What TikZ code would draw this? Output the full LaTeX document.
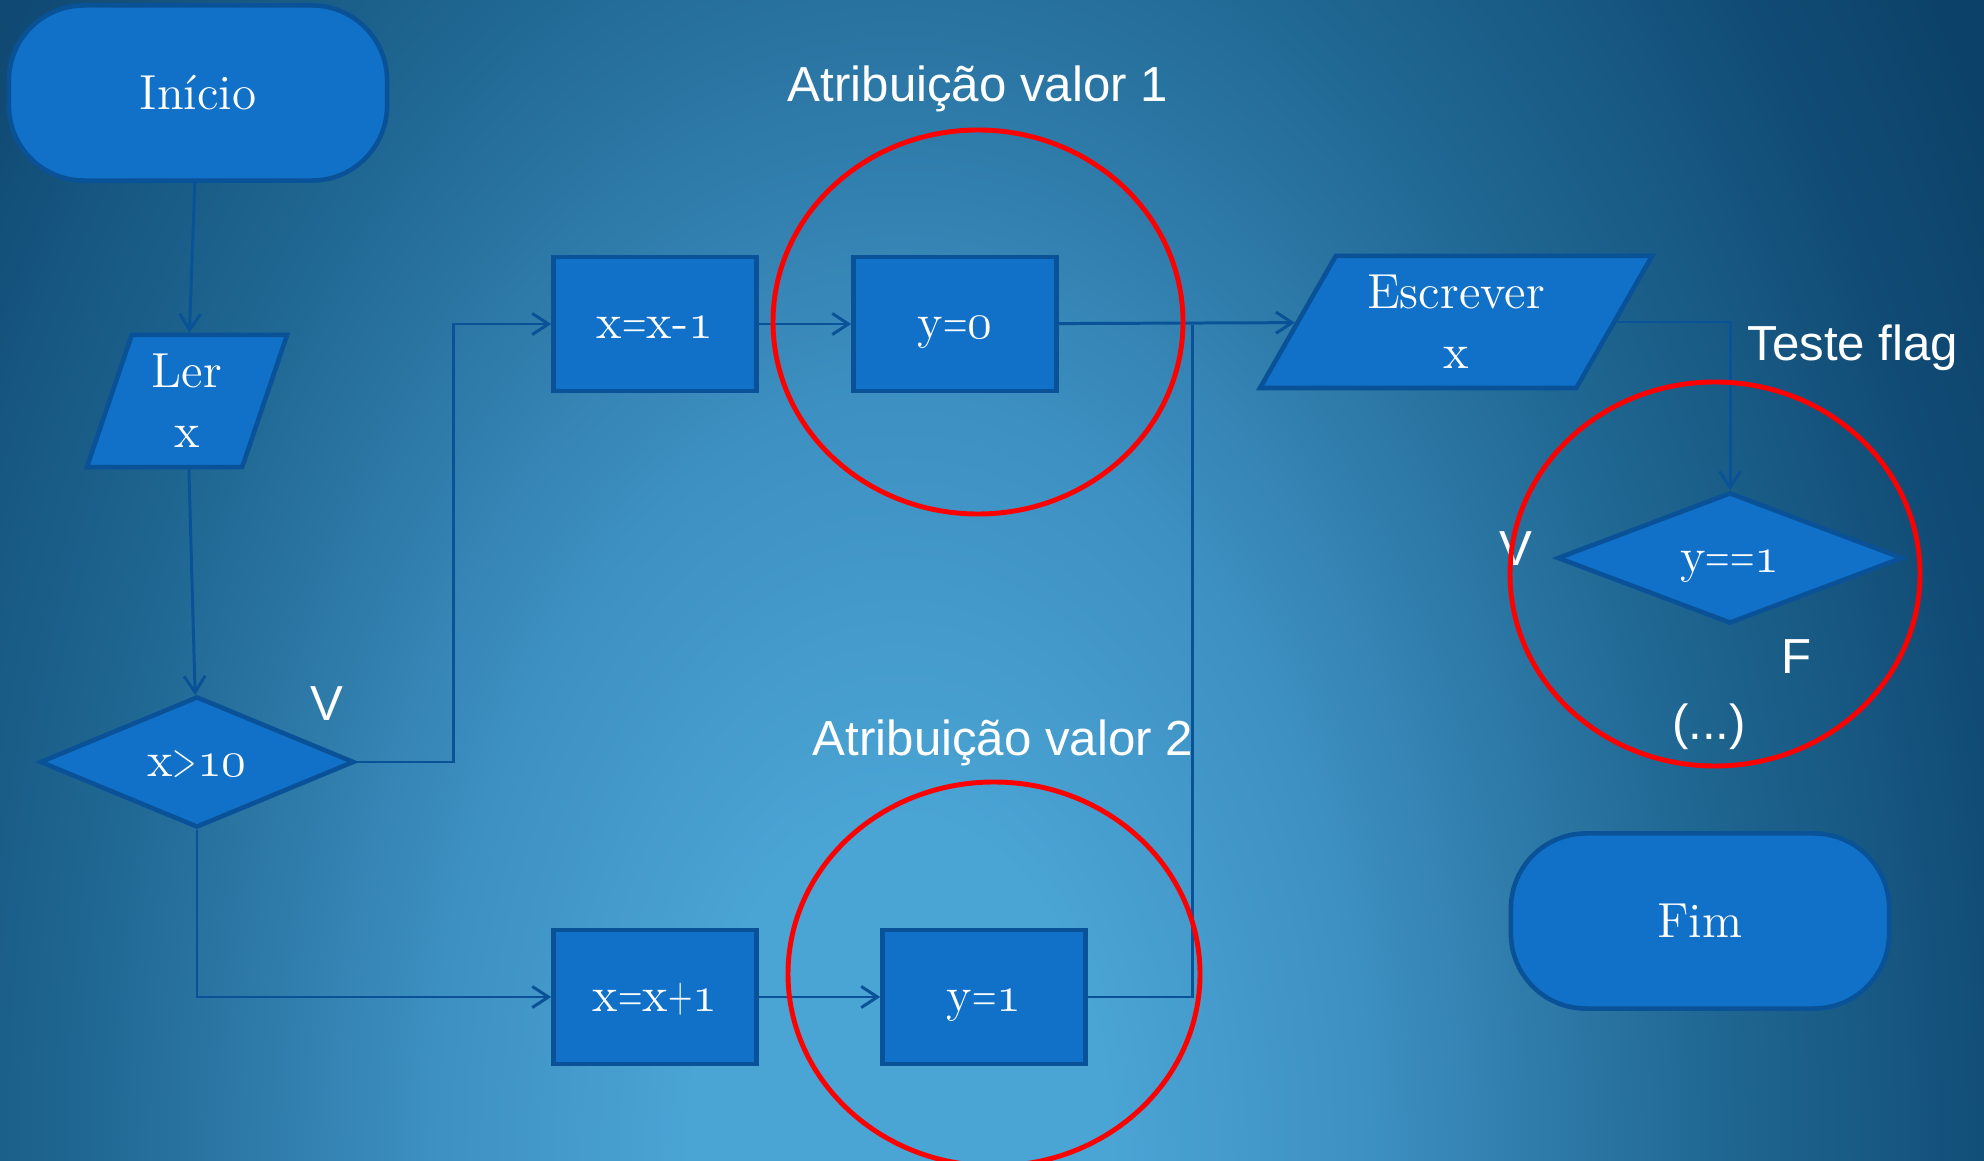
\documentclass[tikz,border=0pt]{standalone}
\usepackage{fontspec}
\usetikzlibrary{shapes.geometric,arrows.meta,calc}
\newfontfamily\labelfont{Liberation Sans}
\newcommand\osnum[1]{{\usefont{OML}{lmm}{m}{it}#1}}
\newcommand\nrw[1]{\scalebox{.65}[1]{#1}}
\definecolor{bglight}{HTML}{4AA4D4}
\definecolor{bgmid}{HTML}{3D90C2}
\definecolor{bgdeep}{HTML}{2B76A4}
\definecolor{bgdim}{HTML}{1E6590}
\definecolor{bgdusk}{HTML}{185A84}
\definecolor{bgnight}{HTML}{114C76}
\definecolor{bgdark}{HTML}{0C426A}
\definecolor{boxfill}{HTML}{1170C8}
\definecolor{boxline}{HTML}{0A5298}
\pgfdeclareradialshading{slide bg}{\pgfpoint{0bp}{0bp}}{%
  color(0bp)=(bglight); color(2.5bp)=(bglight); color(5.6bp)=(bgmid);
  color(8.1bp)=(bgdeep); color(10bp)=(bgdim); color(11.5bp)=(bgdusk);
  color(13.1bp)=(bgnight); color(15bp)=(bgdark); color(50bp)=(bgdark)}
\tikzset{
    box/.style={
        draw=boxline, fill=boxfill, line width=1.3pt, text=white,
        font=\fontsize{14}{17}\selectfont, align=center, inner sep=0pt
    },
    formula/.style={text height=0.97em, text depth=0.17em},
    terminal box/.style={box, rectangle, rounded corners=0.75cm,
        minimum width=3.78cm, minimum height=1.75cm},
    process box/.style={box, formula, rectangle, minimum width=2.03cm, minimum height=1.34cm},
    io box/.style={box, trapezium, trapezium stretches=true, minimum height=1.32cm},
    decision box/.style={box, formula, diamond, aspect=2.4, minimum height=1.31cm},
    flow/.style={draw=boxline, line width=0.85pt},
    flow arrow/.style={flow, -{Straight Barb[length=4.6pt,width=6pt]}},
    red ring/.style={draw=red, line width=1.4pt},
    slide label/.style={text=white, font=\labelfont\fontsize{14}{17}\selectfont,
        inner sep=0pt, anchor=base}
}
\begin{document}
\begin{tikzpicture}[x=0.01cm, y=-0.01cm]
\useasboundingbox (0,0) rectangle (1984,1161);
\begin{scope}
  \clip (0,0) rectangle (1984,1161);
  \fill[bgdark] (0,0) rectangle (1984,1161);
  \shade[shading=slide bg] (900,1161) ellipse [x radius=2100, y radius=3400];
\end{scope}

% boxes
\node[terminal box] (start) at (198,93) {Início};
\node[io box, trapezium left angle=73, trapezium right angle=107,
      minimum width=2cm] (read) at (187,401) {Ler\\x};
\node[decision box, minimum width=3.14cm] (test) at (197,762) {x\nrw{>}\osnum{10}};
\node[process box] (dec) at (655,324) {x\nrw{=}x-\osnum{1}};
\node[process box] (zero) at (955,324) {y\nrw{=}\osnum{0}};
\node[process box] (inc) at (655,997) {x\nrw{=}x\nrw{+}\osnum{1}};
\node[process box] (one) at (984,997) {y\nrw{=}\osnum{1}};
\node[io box, trapezium left angle=59, trapezium right angle=121,
      minimum width=3.93cm] (write) at (1456,322) {Escrever\\x};
\node[decision box, minimum width=3.45cm] (flag) at (1730,558) {y\nrw{=}\nrw{=}\osnum{1}};
\node[terminal box] (stop) at (1700,921) {Fim};
\coordinate (merge) at (1192,325);

% connectors
\draw[flow arrow] (start) -- (read);
\draw[flow arrow] (read) -- (test);
\draw[flow arrow] (test.east) -| ($(test.east)!.5!(dec.west)$) |- (dec.west);
\draw[flow arrow] (test.south) |- (inc.west);
\draw[flow arrow] (dec) -- (zero);
\draw[flow arrow] (inc) -- (one);
\draw[flow arrow] (zero) -- (write);
\draw[flow] (one.east) -| (merge);
\draw[flow arrow] (write) -| (flag);

% labels
\node[slide label] (yes1) at (327,721) {V};
\node[slide label] (title1) at (978,102) {Atribuição valor 1};
\node[slide label] (title2) at (1003,755) {Atribuição valor 2};
\node[slide label] (title3) at (1853,361) {Teste flag};
\node[slide label] (yes2) at (1516,566) {V};
\node[slide label] (no2) at (1797,674) {F};
\node[slide label] (more) at (1709,740) {(...)};

% highlights
\draw[red ring] (978,322) ellipse [x radius=205, y radius=192];
\draw[red ring] (994,974) ellipse [x radius=206, y radius=192];
\draw[red ring] (1715,574) ellipse [x radius=205, y radius=192];
\end{tikzpicture}
\end{document}
